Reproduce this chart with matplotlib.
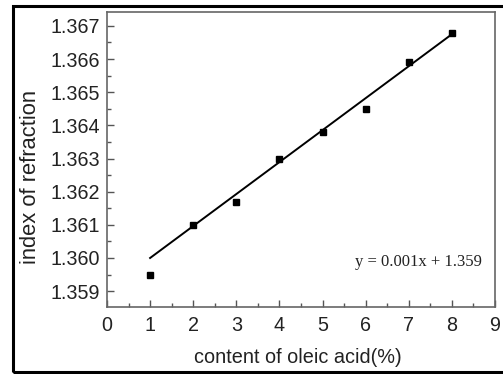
import matplotlib.pyplot as plt
from matplotlib.patches import Rectangle

# oleic acid content (%) vs refractive index
content = [1, 2, 3, 4, 5, 6, 7, 8]
refr_index = [1.3595, 1.3610, 1.3617, 1.3630, 1.3638, 1.3645, 1.3659, 1.3668]
fit_x = [1, 8]
fit_y = [1.3600, 1.36675]
equation = 'y = 0.001x + 1.359'

plt.rcParams['font.family'] = ['Liberation Sans', 'DejaVu Sans']

fig = plt.figure(figsize=(5.03, 3.74), dpi=100)
ax = fig.add_axes([0.2127, 0.179, 0.7715, 0.789])

ax.plot(fit_x, fit_y, color='black', lw=1.4)
ax.plot(content, refr_index, 's', color='black', ms=4.6)

ax.set_xlim(0, 9)
ax.set_ylim(1.35852, 1.36742)
ax.set_xticks(range(0, 10))
ax.set_xticks([i + 0.5 for i in range(9)], minor=True)
ax.set_yticks([1.359 + 0.001 * i for i in range(9)])
ax.set_yticks([1.3595 + 0.001 * i for i in range(8)], minor=True)
ax.set_yticklabels(['%.3f' % (1.359 + 0.001 * i) for i in range(9)])
ax.tick_params(which='both', direction='in', labelsize=14.2, color='#555555',
               labelcolor='#222222')
ax.tick_params(which='major', length=5, width=1)
ax.tick_params(which='minor', length=3, width=1)
ax.tick_params(axis='x', pad=6.5)
ax.tick_params(axis='y', pad=5)

for s in ax.spines.values():
    s.set_color('#666666')
    s.set_linewidth(1.2)

ax.set_xlabel('content of oleic acid(%)', fontsize=14.3, color='#222222', va='top')
ax.xaxis.set_label_coords(0.492, -0.138)
ax.set_ylabel('index of refraction', fontsize=15.8, color='#222222')
ax.yaxis.set_label_coords(-0.17, 0.44)

ax.text(0.966, 0.153, equation, transform=ax.transAxes, ha='right', va='center',
        fontsize=12, family='Liberation Serif', color='#222222')

# outer frame around the whole picture
fig.patches.append(Rectangle((13 / 503, 2 / 374), 1.0, 366 / 374, transform=fig.transFigure,
                             fill=False, edgecolor='black', lw=2.2))

fig.savefig('out.png', dpi=100)
